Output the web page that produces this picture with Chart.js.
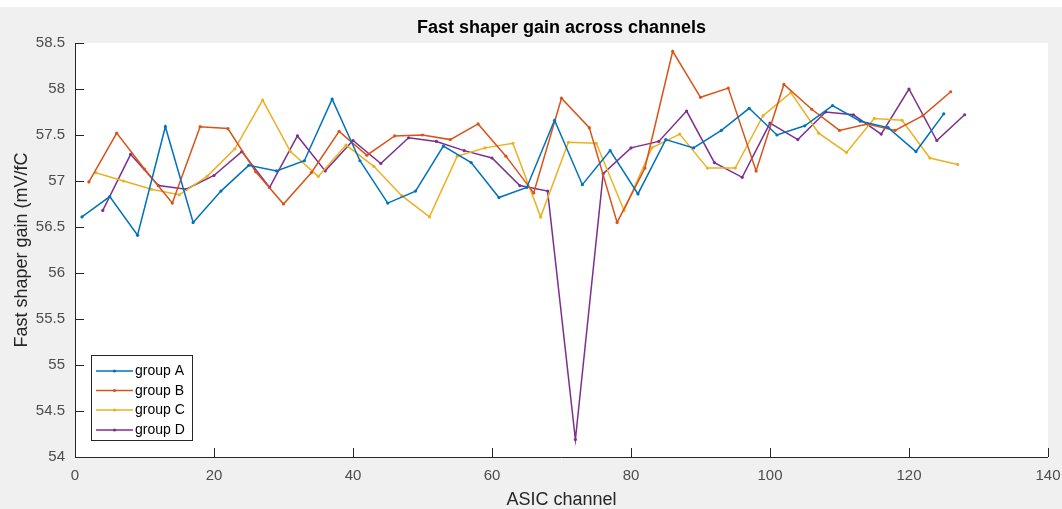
<!DOCTYPE html>
<html>
<head>
<meta charset="utf-8">
<script src="https://cdn.jsdelivr.net/npm/chart.js@4/dist/chart.umd.min.js"></script>
<style>
  html, body { margin: 0; padding: 0; background: #f0f0f0; }
  #wrap { width: 1062px; height: 509px; }
</style>
</head>
<body>
<div id="wrap"><canvas id="c" width="1062" height="509"></canvas></div>
<script>
// ASIC channels read out by each group
const chanA = [1,5,9,13,17,21,25,29,33,37,41,45,49,53,57,61,65,69,73,77,81,85,89,93,97,101,105,109,113,117,121,125];
const chanB = [2,6,10,14,18,22,26,30,34,38,42,46,50,54,58,62,66,70,74,78,82,86,90,94,98,102,106,110,114,118,122,126];
const chanC = [3,7,11,15,19,23,27,31,35,39,43,47,51,55,59,63,67,71,75,79,83,87,91,95,99,103,107,111,115,119,123,127];
const chanD = [4,8,12,16,20,24,28,32,36,40,44,48,52,56,60,64,68,72,76,80,84,88,92,96,100,104,108,112,116,120,124,128];

// Fast shaper gain (mV/fC) per channel
const gainA = [56.61,56.83,56.41,57.59,56.55,56.89,57.17,57.11,57.22,57.89,57.22,56.76,56.89,57.38,57.20,56.82,56.93,57.66,56.96,57.33,56.86,57.45,57.36,57.55,57.79,57.50,57.60,57.82,57.65,57.58,57.32,57.73];
const gainB = [56.99,57.52,57.13,56.76,57.59,57.57,57.10,56.75,57.09,57.54,57.28,57.49,57.50,57.45,57.62,57.27,56.87,57.90,57.58,56.55,57.14,58.41,57.91,58.01,57.11,58.05,57.78,57.55,57.62,57.55,57.71,57.97];
const gainC = [57.09,57.00,56.91,56.85,57.05,57.35,57.88,57.32,57.05,57.39,57.16,56.84,56.61,57.27,57.36,57.41,56.61,57.42,57.41,56.68,57.36,57.51,57.14,57.14,57.71,57.96,57.52,57.31,57.68,57.66,57.25,57.18];
const gainD = [56.68,57.29,56.95,56.91,57.06,57.32,56.93,57.49,57.11,57.44,57.19,57.47,57.43,57.33,57.25,56.95,56.89,54.19,57.08,57.36,57.43,57.76,57.20,57.04,57.63,57.45,57.75,57.72,57.51,58.00,57.44,57.72];

const groupNames = ['group A', 'group B', 'group C', 'group D'];
const groupColors = ['#0072BD', '#D95319', '#EDB120', '#7E2F8E'];

const xTicks = [0, 20, 40, 60, 80, 100, 120, 140];
const yTicks = [54, 54.5, 55, 55.5, 56, 56.5, 57, 57.5, 58, 58.5];

const chartTitle = 'Fast shaper gain across channels';

const FONT = '"Liberation Sans", Arial, Helvetica, sans-serif';
const AXIS_COLOR = '#262626';

function pairs(xs, ys) { return xs.map((x, i) => ({ x: x, y: ys[i] })); }

const series = [
  pairs(chanA, gainA),
  pairs(chanB, gainB),
  pairs(chanC, gainC),
  pairs(chanD, gainD)
];

// Figure background, white strip at the top, white axes box and the title
const background = {
  id: 'background',
  beforeDraw(chart) {
    const { ctx, chartArea: a, width, height } = chart;
    ctx.save();
    ctx.fillStyle = '#f0f0f0';
    ctx.fillRect(0, 0, width, height);
    ctx.fillStyle = '#ffffff';
    ctx.fillRect(0, 0, width, 7);
    ctx.fillRect(a.left, a.top, a.right - a.left, a.bottom - a.top);
    ctx.fillStyle = '#000000';
    ctx.font = 'bold 18px ' + FONT;
    ctx.textAlign = 'center';
    ctx.textBaseline = 'alphabetic';
    ctx.fillText(chartTitle, (a.left + a.right) / 2, 33);
    ctx.restore();
  }
};

// Left and bottom axis lines with inward tick marks
const axesLines = {
  id: 'axesLines',
  afterDatasetsDraw(chart) {
    const { ctx, chartArea: a, scales } = chart;
    const len = 9;
    ctx.save();
    ctx.strokeStyle = AXIS_COLOR;
    ctx.lineWidth = 1;
    ctx.beginPath();
    ctx.moveTo(a.left + 0.5, a.top);
    ctx.lineTo(a.left + 0.5, a.bottom + 0.5);
    ctx.lineTo(a.right, a.bottom + 0.5);
    xTicks.forEach(v => {
      const px = Math.round(scales.x.getPixelForValue(v)) + 0.5;
      ctx.moveTo(px, a.bottom);
      ctx.lineTo(px, a.bottom - len);
    });
    yTicks.forEach(v => {
      const py = Math.round(scales.y.getPixelForValue(v)) + 0.5;
      ctx.moveTo(a.left, py);
      ctx.lineTo(a.left + len, py);
    });
    ctx.stroke();
    ctx.restore();
  }
};

// Boxed legend in the lower left corner of the axes
const boxLegend = {
  id: 'boxLegend',
  afterDraw(chart) {
    const { ctx } = chart;
    const bx = 91.5, by = 355.5, bw = 101, bh = 85;
    const rowY = [371, 390.5, 410, 430];
    ctx.save();
    ctx.fillStyle = '#ffffff';
    ctx.fillRect(bx, by, bw, bh);
    ctx.strokeStyle = AXIS_COLOR;
    ctx.lineWidth = 1;
    ctx.strokeRect(bx, by, bw, bh);
    chart.data.datasets.forEach((ds, i) => {
      const y = rowY[i];
      ctx.strokeStyle = ds.borderColor;
      ctx.lineWidth = 1.5;
      ctx.beginPath();
      ctx.moveTo(96, y);
      ctx.lineTo(133, y);
      ctx.stroke();
      ctx.fillStyle = ds.borderColor;
      ctx.beginPath();
      ctx.arc(114.5, y, 1.6, 0, Math.PI * 2);
      ctx.fill();
      ctx.fillStyle = '#000000';
      ctx.font = '14px ' + FONT;
      ctx.textAlign = 'left';
      ctx.textBaseline = 'middle';
      ctx.fillText(ds.label, 135, y + 0.5);
    });
    ctx.restore();
  }
};

new Chart(document.getElementById('c'), {
  type: 'line',
  data: {
    datasets: series.map((pts, i) => ({
      label: groupNames[i],
      data: pts,
      borderColor: groupColors[i],
      backgroundColor: groupColors[i],
      borderWidth: 1.5,
      pointRadius: 1.6,
      pointHoverRadius: 1.6,
      pointBorderWidth: 0,
      tension: 0,
      fill: false
    }))
  },
  options: {
    responsive: false,
    devicePixelRatio: 1,
    animation: false,
    events: [],
    layout: { padding: { top: 43, left: 0, right: 14, bottom: 0 } },
    plugins: {
      legend: { display: false },
      tooltip: { enabled: false },
      title: { display: false }
    },
    scales: {
      x: {
        type: 'linear',
        min: 0,
        max: 140,
        afterFit(scale) {
          scale.height = 52;
          scale.paddingLeft = 0;
          scale.paddingRight = 0;
        },
        afterBuildTicks(scale) { scale.ticks = xTicks.map(v => ({ value: v })); },
        grid: { display: false, drawTicks: false },
        border: { display: false },
        ticks: {
          color: '#4d4d4d',
          font: { family: FONT, size: 15 },
          padding: 10,
          maxRotation: 0,
          callback: v => String(v)
        },
        title: {
          display: true,
          text: 'ASIC channel',
          color: '#262626',
          font: { family: FONT, size: 18, lineHeight: 1 },
          padding: { top: 0, bottom: 0 }
        }
      },
      y: {
        type: 'linear',
        min: 54,
        max: 58.5,
        afterFit(scale) {
          scale.width = 75;
          scale.paddingTop = 0;
          scale.paddingBottom = 0;
        },
        afterBuildTicks(scale) { scale.ticks = yTicks.map(v => ({ value: v })); },
        grid: { display: false, drawTicks: false },
        border: { display: false },
        ticks: {
          color: '#4d4d4d',
          font: { family: FONT, size: 15 },
          padding: 10,
          callback: v => String(v)
        },
        title: {
          display: true,
          text: 'Fast shaper gain (mV/fC',
          color: '#262626',
          font: { family: FONT, size: 18, lineHeight: 1 },
          padding: { top: 13.5, bottom: 0 }
        }
      }
    }
  },
  plugins: [background, axesLines, boxLegend]
});
</script>
</body>
</html>
